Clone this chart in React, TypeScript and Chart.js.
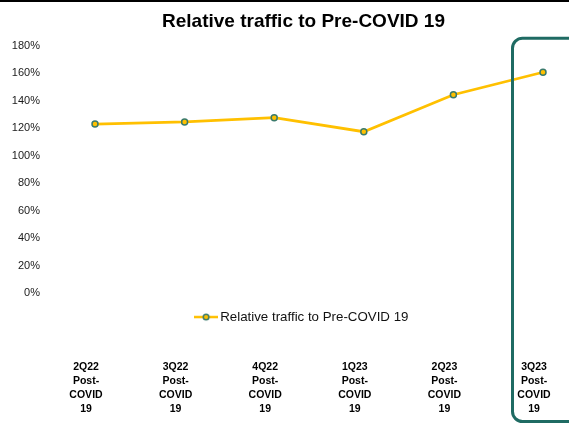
import React, { useEffect, useRef } from 'react';
import { Chart, registerables } from 'chart.js';

Chart.register(...registerables);

// ---- data ----
const categories: string[][] = [
  ['2Q22', 'Post-', 'COVID', '19'],
  ['3Q22', 'Post-', 'COVID', '19'],
  ['4Q22', 'Post-', 'COVID', '19'],
  ['1Q23', 'Post-', 'COVID', '19'],
  ['2Q23', 'Post-', 'COVID', '19'],
  ['3Q23', 'Post-', 'COVID', '19'],
];
const trafficValues: number[] = [123, 124.5, 127.6, 117.4, 144.3, 160.7];
const seriesLabel = 'Relative traffic to Pre-COVID 19';
const chartTitle = 'Relative traffic to Pre-COVID 19';
const yMin = 0;
const yMax = 180;
const yStep = 20;
const highlightIndex = 5;

// ---- styles ----
const FONT = "'Liberation Sans', Arial, Helvetica, sans-serif";
const LINE_COLOR = '#FFC000';
const POINT_BORDER = '#3a7a6c';
const BOX_COLOR = '#1f6b63';
const CANVAS_W = 607;
const CANVAS_H = 423;

export default function App() {
  const ref = useRef<HTMLCanvasElement>(null);

  useEffect(() => {
    const canvas = ref.current;
    if (!canvas) return;

    // legend icon: line with marker
    const icon = document.createElement('canvas');
    icon.width = 24;
    icon.height = 10;
    const ic = icon.getContext('2d')!;
    ic.strokeStyle = LINE_COLOR;
    ic.lineWidth = 2.5;
    ic.beginPath();
    ic.moveTo(0, 5);
    ic.lineTo(24, 5);
    ic.stroke();
    ic.beginPath();
    ic.arc(12, 5, 2.8, 0, Math.PI * 2);
    ic.fillStyle = LINE_COLOR;
    ic.fill();
    ic.lineWidth = 1.5;
    ic.strokeStyle = POINT_BORDER;
    ic.stroke();

    const decor = {
      id: 'decor',
      beforeDraw(chart: any) {
        const { ctx, width, height } = chart;
        ctx.save();
        ctx.fillStyle = '#ffffff';
        ctx.fillRect(0, 0, width, height);
        ctx.fillStyle = '#000000';
        ctx.fillRect(0, 0, width, 2);
        ctx.restore();
      },
      afterDraw(chart: any) {
        const { ctx, height } = chart;
        const xs = chart.scales.x;
        const ys = chart.scales.y;
        const cx = xs.getPixelForValue(highlightIndex);
        const left = cx - 30.5;
        const right = cx + 42;
        const top = ys.getPixelForValue(yMax) - 7.5;
        const bottom = height - 1.5;
        const r = 10;
        ctx.save();
        ctx.strokeStyle = BOX_COLOR;
        ctx.lineWidth = 3;
        ctx.beginPath();
        ctx.moveTo(left + r, top);
        ctx.lineTo(right - r, top);
        ctx.arcTo(right, top, right, top + r, r);
        ctx.lineTo(right, bottom - r);
        ctx.arcTo(right, bottom, right - r, bottom, r);
        ctx.lineTo(left + r, bottom);
        ctx.arcTo(left, bottom, left, bottom - r, r);
        ctx.lineTo(left, top + r);
        ctx.arcTo(left, top, left + r, top, r);
        ctx.closePath();
        ctx.stroke();
        ctx.restore();
      },
    };

    const chart = new Chart(canvas, {
      type: 'line',
      data: {
        labels: categories,
        datasets: [
          {
            label: seriesLabel,
            data: trafficValues,
            borderColor: LINE_COLOR,
            backgroundColor: LINE_COLOR,
            borderWidth: 2.75,
            pointRadius: 3,
            pointBorderWidth: 1.5,
            pointBackgroundColor: LINE_COLOR,
            pointBorderColor: POINT_BORDER,
            tension: 0,
            fill: false,
            yAxisID: 'y',
          },
        ],
      },
      options: {
        responsive: false,
        animation: false,
        layout: { padding: { left: 8, right: 8, top: 0, bottom: 8.3 } },
        plugins: {
          title: {
            display: true,
            text: chartTitle,
            color: '#000000',
            font: { family: FONT, size: 19, weight: 'bold' },
            padding: { top: 10, bottom: 12.9 },
          },
          legend: {
            position: 'bottom',
            labels: {
              usePointStyle: true,
              pointStyleWidth: 15,
              padding: 17.35,
              color: '#111111',
              font: { family: FONT, size: 13.3 },
              generateLabels: (c: any) =>
                (Chart.defaults.plugins.legend.labels as any)
                  .generateLabels(c)
                  .map((l: any) => ({ ...l, pointStyle: icon })),
            },
          },
          tooltip: { enabled: false },
        },
        scales: {
          x: {
            weight: 2000,
            offset: false,
            grid: { display: false, drawTicks: false },
            border: { display: false },
            afterFit: (s: any) => {
              s.height = 81;
              s.paddingLeft = 0;
              s.paddingRight = 0;
            },
            ticks: {
              padding: 27,
              labelOffset: -9,
              autoSkip: false,
              maxRotation: 0,
              color: '#000000',
              font: { family: FONT, size: 10.5, weight: 'bold', lineHeight: 1.31 },
            },
          },
          y: {
            min: yMin,
            max: yMax,
            grid: { display: false, drawTicks: false },
            border: { display: false },
            afterFit: (s: any) => {
              s.width = 87;
              s.paddingTop = 0;
              s.paddingBottom = 0;
            },
            ticks: {
              stepSize: yStep,
              padding: 55,
              color: '#1a1a1a',
              font: { family: FONT, size: 11 },
              callback: (v: any) => v + '%',
            },
          },
          yRight: {
            type: 'linear',
            axis: 'y',
            position: 'right',
            grid: { display: false, drawTicks: false },
            border: { display: false },
            ticks: { display: false },
            afterFit: (s: any) => {
              s.width = 56;
              s.paddingTop = 0;
              s.paddingBottom = 0;
            },
          },
        },
      } as any,
      plugins: [decor],
    });

    return () => chart.destroy();
  }, []);

  return (
    <div
      style={{
        position: 'absolute',
        left: 0,
        top: 0,
        width: 569,
        height: 423,
        overflow: 'hidden',
        background: '#ffffff',
      }}
    >
      <canvas
        ref={ref}
        width={CANVAS_W}
        height={CANVAS_H}
        style={{ display: 'block', width: CANVAS_W, height: CANVAS_H }}
      />
    </div>
  );
}
